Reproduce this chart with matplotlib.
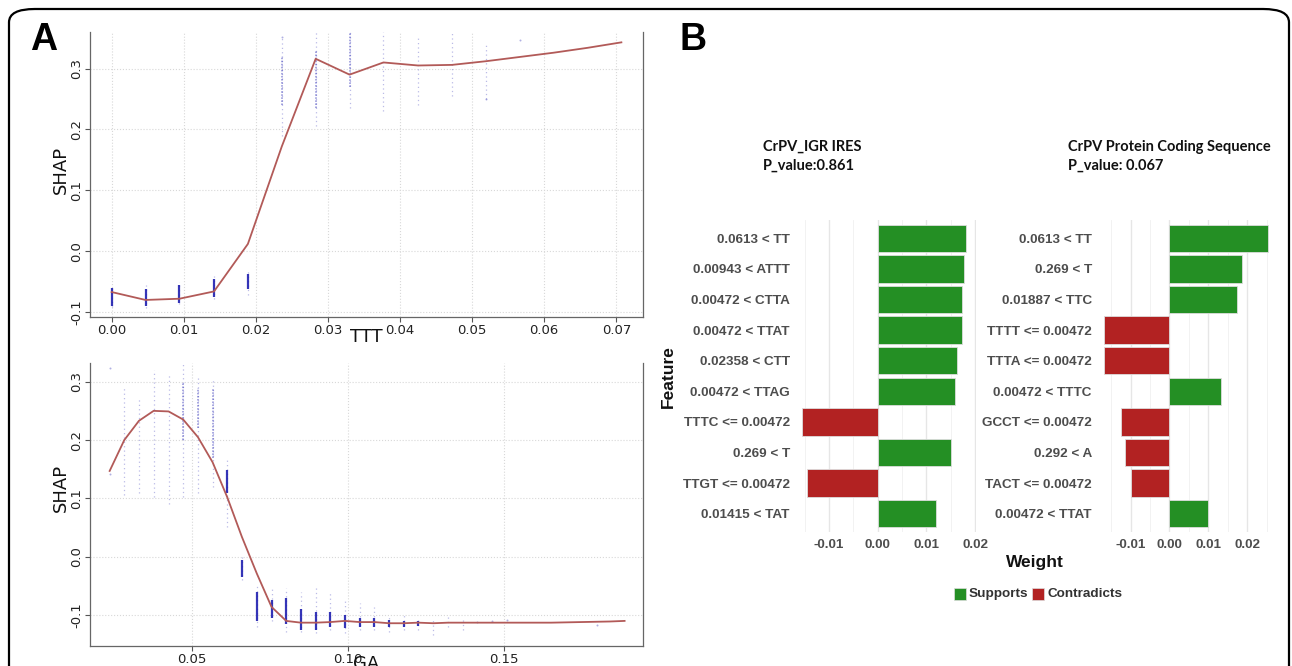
import numpy as np
import matplotlib
matplotlib.use("Agg")
import matplotlib.pyplot as plt
from matplotlib.patches import FancyBboxPatch, Rectangle

# ---- panel A, top: SHAP dependence for TTT ----
ttt_line_x = [0.0, 0.0047, 0.0094, 0.0142, 0.0189, 0.0236, 0.0283, 0.0330,
              0.0377, 0.0425, 0.0472, 0.0519, 0.0566, 0.0613, 0.0660, 0.0707]
ttt_line_y = [-0.067, -0.080, -0.078, -0.066, 0.012, 0.172, 0.316, 0.290,
              0.310, 0.305, 0.306, 0.312, 0.319, 0.326, 0.334, 0.343]

ttt_core_x = [0.0, 0.0047, 0.0094, 0.0142, 0.0189]
ttt_core_lo = [-0.090, -0.090, -0.085, -0.075, -0.062]
ttt_core_hi = [-0.060, -0.062, -0.055, -0.045, -0.038]

ttt_mid_x = [0.0236, 0.0283, 0.0330]
ttt_mid_lo = [0.240, 0.235, 0.270]
ttt_mid_hi = [0.320, 0.330, 0.360]

ttt_cloud_x = [0.0, 0.0047, 0.0094, 0.0142, 0.0189, 0.0236, 0.0283, 0.0330,
               0.0377, 0.0425, 0.0472, 0.0519]
ttt_cloud_lo = [-0.092, -0.093, -0.087, -0.078, -0.072, 0.190, 0.205, 0.235,
                0.230, 0.240, 0.255, 0.250]
ttt_cloud_hi = [-0.057, -0.056, -0.050, -0.040, -0.030, 0.350, 0.365, 0.365,
                0.360, 0.355, 0.360, 0.340]

ttt_dot_x = [0.0566, 0.0519, 0.0236]
ttt_dot_y = [0.347, 0.250, 0.352]

# ---- panel A, bottom: SHAP dependence for GA ----
ga_line_x = [0.0236, 0.0283, 0.0330, 0.0377, 0.0425, 0.0472, 0.0519, 0.0566,
             0.0613, 0.0660, 0.0708, 0.0755, 0.0802, 0.0849, 0.0896, 0.0943,
             0.0990, 0.1038, 0.1085, 0.1132, 0.1179, 0.1226, 0.1274, 0.1321,
             0.1368, 0.1462, 0.1557, 0.1651, 0.1745, 0.1840, 0.1887]
ga_line_y = [0.147, 0.200, 0.233, 0.250, 0.249, 0.235, 0.205, 0.162,
             0.102, 0.034, -0.029, -0.086, -0.110, -0.113, -0.113, -0.112,
             -0.110, -0.112, -0.112, -0.114, -0.114, -0.113, -0.114, -0.113,
             -0.113, -0.113, -0.113, -0.113, -0.112, -0.111, -0.110]

ga_core_x = [0.0613, 0.0660, 0.0708, 0.0755, 0.0802, 0.0849, 0.0896, 0.0943,
             0.0990, 0.1038, 0.1085, 0.1132, 0.1179, 0.1226]
ga_core_lo = [0.109, -0.035, -0.110, -0.105, -0.115, -0.125, -0.125, -0.120,
              -0.122, -0.120, -0.120, -0.120, -0.120, -0.118]
ga_core_hi = [0.149, -0.005, -0.060, -0.075, -0.070, -0.090, -0.095, -0.095,
              -0.100, -0.105, -0.105, -0.108, -0.110, -0.110]

ga_mid_x = [0.0472, 0.0519, 0.0566]
ga_mid_lo = [0.200, 0.220, 0.170]
ga_mid_hi = [0.300, 0.290, 0.290]

ga_cloud_x = [0.0283, 0.0330, 0.0377, 0.0425, 0.0472, 0.0519, 0.0566, 0.0613,
              0.0660, 0.0708, 0.0755, 0.0802, 0.0849, 0.0896, 0.0943, 0.0990,
              0.1038, 0.1085, 0.1132, 0.1179, 0.1226, 0.1274, 0.1321, 0.1368]
ga_cloud_lo = [0.106, 0.109, 0.103, 0.091, 0.103, 0.109, 0.120, 0.051,
               -0.040, -0.120, -0.111, -0.129, -0.129, -0.131, -0.126, -0.131,
               -0.126, -0.126, -0.129, -0.126, -0.126, -0.134, -0.120, -0.126]
ga_cloud_hi = [0.289, 0.274, 0.320, 0.314, 0.331, 0.311, 0.306, 0.171,
               0.000, -0.049, -0.054, -0.054, -0.060, -0.051, -0.060, -0.071,
               -0.080, -0.086, -0.100, -0.100, -0.103, -0.106, -0.098, -0.106]

ga_dot_x = [0.0236, 0.0236, 0.1415, 0.1462, 0.1510, 0.1800]
ga_dot_y = [0.323, 0.142, -0.112, -0.110, -0.109, -0.117]

# ---- panel B: LIME explanations ----
ires_features = ["0.0613 < TT", "0.00943 < ATTT", "0.00472 < CTTA", "0.00472 < TTAT",
                 "0.02358 < CTT", "0.00472 < TTAG", "TTTC <= 0.00472", "0.269 < T",
                 "TTGT <= 0.00472", "0.01415 < TAT"]
ires_weights = [0.0182, 0.0178, 0.0173, 0.0173, 0.0162, 0.0158, -0.0156, 0.0151,
                -0.0146, 0.0119]

cds_features = ["0.0613 < TT", "0.269 < T", "0.01887 < TTC", "TTTT <= 0.00472",
                "TTTA <= 0.00472", "0.00472 < TTTC", "GCCT <= 0.00472", "0.292 < A",
                "TACT <= 0.00472", "0.00472 < TTAT"]
cds_weights = [0.0255, 0.0188, 0.0174, -0.0168, -0.0168, 0.0133, -0.0125, -0.0115,
               -0.0100, 0.0100]

W, H = 1292, 666
fig = plt.figure(figsize=(W / 100, H / 100), dpi=100)


def box(x0, y0, x1, y1):
    return [x0 / W, 1 - y1 / H, (x1 - x0) / W, (y1 - y0) / H]


def ftext(x, y, s, **kw):
    fig.text(x / W, 1 - y / H, s, **kw)


# outer rounded frame
fig.patches.append(FancyBboxPatch((9 / W, -0.05), 1280 / W, 1 - 9 / H + 0.05,
                                  boxstyle="round,pad=0,rounding_size=0.02",
                                  transform=fig.transFigure, fill=False,
                                  edgecolor="black", linewidth=1.6))

line_col = "#b25a58"
blue = "#1f1fb0"


def shap_axes(rect):
    ax = fig.add_axes(rect)
    for s in ["left", "bottom", "right"]:
        ax.spines[s].set_color("#666666")
        ax.spines[s].set_linewidth(0.9)
    ax.spines["top"].set_visible(False)
    ax.grid(True, color="#d8d8d8", linestyle=":", linewidth=0.8)
    ax.set_axisbelow(True)
    ax.tick_params(colors="#555555", labelcolor="#222222", labelsize=9.5,
                   length=3.5, pad=1.5)
    return ax


def streaks(ax, cx, clo, chi, mx, mlo, mhi, kx, klo, khi, dx, dy):
    ax.vlines(cx, clo, chi, colors=blue, linewidth=0.9, linestyles=(0, (1, 2.5)), alpha=0.3)
    ax.vlines(mx, mlo, mhi, colors=blue, linewidth=1.1, linestyles=(0, (1, 1)), alpha=0.5)
    ax.vlines(kx, klo, khi, colors=blue, linewidth=1.6, alpha=0.9)
    ax.scatter(dx, dy, s=2, color=blue, alpha=0.35, linewidths=0)


ax1 = shap_axes(box(90, 32, 643, 317))
streaks(ax1, ttt_cloud_x, ttt_cloud_lo, ttt_cloud_hi, ttt_mid_x, ttt_mid_lo, ttt_mid_hi,
        ttt_core_x, ttt_core_lo, ttt_core_hi, ttt_dot_x, ttt_dot_y)
ax1.plot(ttt_line_x, ttt_line_y, color=line_col, linewidth=1.3)
ax1.set_xlim(-0.003, 0.0737)
ax1.set_ylim(-0.108, 0.36)
ax1.set_xticks(np.arange(0, 0.071, 0.01))
ax1.set_xticklabels(["0.00", "0.01", "0.02", "0.03", "0.04", "0.05", "0.06", "0.07"])
ax1.set_yticks([-0.1, 0.0, 0.1, 0.2, 0.3])
ax1.set_yticklabels(["-0.1", "0.0", "0.1", "0.2", "0.3"], rotation=90, va="center")

ax2 = shap_axes(box(90, 363, 643, 646))
streaks(ax2, ga_cloud_x, ga_cloud_lo, ga_cloud_hi, ga_mid_x, ga_mid_lo, ga_mid_hi,
        ga_core_x, ga_core_lo, ga_core_hi, ga_dot_x, ga_dot_y)
ax2.plot(ga_line_x, ga_line_y, color=line_col, linewidth=1.3)
ax2.set_xlim(0.0173, 0.1946)
ax2.set_ylim(-0.153, 0.332)
ax2.set_xticks([0.05, 0.10, 0.15])
ax2.set_xticklabels(["0.05", "0.10", "0.15"])
ax2.set_yticks([-0.1, 0.0, 0.1, 0.2, 0.3])
ax2.set_yticklabels(["-0.1", "0.0", "0.1", "0.2", "0.3"], rotation=90, va="center")

ftext(61, 170, "SHAP", rotation=90, ha="center", va="center", fontsize=13, color="#111111")
ftext(61, 488, "SHAP", rotation=90, ha="center", va="center", fontsize=13, color="#111111")
ftext(366, 337, "TTT", ha="center", va="center", fontsize=13, color="#111111")
ftext(366, 664, "GA", ha="center", va="center", fontsize=13, color="#111111")

ftext(30, 40, "A", ha="left", va="center", fontsize=27, fontweight="bold",
      family="Liberation Sans")
ftext(680, 40, "B", ha="left", va="center", fontsize=27, fontweight="bold",
      family="Liberation Sans")

green = "#248f24"
red = "#b22222"
tick_col = "#4d4d4d"


def lime_axes(rect, feats, weights, xlim, ticks):
    ax = fig.add_axes(rect)
    y = np.arange(len(feats))
    cols = [green if w > 0 else red for w in weights]
    ax.barh(y, weights, height=0.9, color=cols, edgecolor="#dddddd", linewidth=0.6, zorder=3)
    ax.set_ylim(len(feats) - 0.4, -0.6)
    ax.set_xlim(*xlim)
    ax.set_yticks(y)
    ax.set_yticklabels(feats)
    ax.set_xticks(ticks)
    ax.set_xticklabels(["%.2f" % t for t in ticks])
    ax.set_xticks(np.arange(-0.015, xlim[1], 0.01), minor=True)
    ax.grid(True, axis="x", which="major", color="#e6e6e6", linewidth=1.0, zorder=0)
    ax.grid(True, axis="x", which="minor", color="#f0f0f0", linewidth=0.6, zorder=0)
    for s in ax.spines.values():
        s.set_visible(False)
    ax.tick_params(axis="both", which="both", length=0, labelcolor=tick_col, labelsize=9.7)
    ax.tick_params(axis="y", pad=3)
    ax.tick_params(axis="x", pad=5)
    for lab in ax.get_yticklabels() + ax.get_xticklabels():
        lab.set_fontweight("bold")
        lab.set_family("Liberation Sans")
    return ax


lime_axes(box(794, 220, 976, 532), ires_features, ires_weights,
          (-0.0172, 0.0202), [-0.01, 0.0, 0.01, 0.02])
lime_axes(box(1096, 220, 1277, 532), cds_features, cds_weights,
          (-0.0189, 0.0277), [-0.01, 0.0, 0.01, 0.02])

title_font = dict(fontsize=10.5, fontweight="bold", family="Lato", color="#111111",
                  ha="left", va="center")
ftext(763, 147, "CrPV_IGR IRES", **title_font)
ftext(763, 166, "P_value:0.861", **title_font)
ftext(1068, 147, "CrPV Protein Coding Sequence", **title_font)
ftext(1068, 166, "P_value: 0.067", **title_font)

ftext(668, 377, "Feature", rotation=90, ha="center", va="center", fontsize=12.5,
      fontweight="bold", family="Liberation Sans", color="#111111")
ftext(1035, 563, "Weight", ha="center", va="center", fontsize=12.5,
      fontweight="bold", family="Liberation Sans", color="#111111")

# legend
for x0, col, lab in [(954, green, "Supports"), (1032, red, "Contradicts")]:
    fig.patches.append(Rectangle((x0 / W, 1 - 600 / H), 12 / W, 12 / H,
                                 transform=fig.transFigure, facecolor=col,
                                 edgecolor="#dddddd", linewidth=0.5))
    ftext(x0 + 15, 594, lab, ha="left", va="center", fontsize=9.7, fontweight="bold",
          family="Liberation Sans", color="#333333")

fig.savefig("out.png", dpi=100)
